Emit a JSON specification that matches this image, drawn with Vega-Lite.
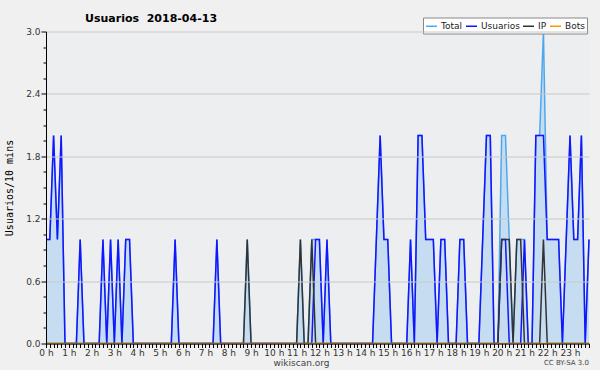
{
  "$schema": "https://vega.github.io/schema/vega-lite/v6.json",
  "autosize": {"type": "none"},
  "width": 543,
  "height": 312,
  "padding": {"left": 46, "top": 31.5, "right": 11, "bottom": 26.5},
  "background": "#f0f0f0",
  "config": {
    "view": {"fill": "#edeef0", "stroke": null},
    "font": "DejaVu Sans"
  },
  "title": {
    "text": "Usuarios\u00a0 2018-04-13",
    "anchor": "start",
    "frame": "group",
    "dx": 39,
    "dy": 16,
    "offset": 9,
    "fontSize": 11,
    "fontWeight": "bold",
    "color": "#000000",
    "font": "DejaVu Sans"
  },
  "data": {
    "values": [
      {"t":0,"Total":1,"Usuarios":1,"IP":0,"Bots":0},
      {"t":1,"Total":1,"Usuarios":1,"IP":0,"Bots":0},
      {"t":2,"Total":2,"Usuarios":2,"IP":0,"Bots":0},
      {"t":3,"Total":1,"Usuarios":1,"IP":0,"Bots":0},
      {"t":4,"Total":2,"Usuarios":2,"IP":0,"Bots":0},
      {"t":5,"Total":0,"Usuarios":0,"IP":0,"Bots":0},
      {"t":6,"Total":0,"Usuarios":0,"IP":0,"Bots":0},
      {"t":7,"Total":0,"Usuarios":0,"IP":0,"Bots":0},
      {"t":8,"Total":0,"Usuarios":0,"IP":0,"Bots":0},
      {"t":9,"Total":1,"Usuarios":1,"IP":0,"Bots":0},
      {"t":10,"Total":0,"Usuarios":0,"IP":0,"Bots":0},
      {"t":11,"Total":0,"Usuarios":0,"IP":0,"Bots":0},
      {"t":12,"Total":0,"Usuarios":0,"IP":0,"Bots":0},
      {"t":13,"Total":0,"Usuarios":0,"IP":0,"Bots":0},
      {"t":14,"Total":0,"Usuarios":0,"IP":0,"Bots":0},
      {"t":15,"Total":1,"Usuarios":1,"IP":0,"Bots":0},
      {"t":16,"Total":0,"Usuarios":0,"IP":0,"Bots":0},
      {"t":17,"Total":1,"Usuarios":1,"IP":0,"Bots":0},
      {"t":18,"Total":0,"Usuarios":0,"IP":0,"Bots":0},
      {"t":19,"Total":1,"Usuarios":1,"IP":0,"Bots":0},
      {"t":20,"Total":0,"Usuarios":0,"IP":0,"Bots":0},
      {"t":21,"Total":1,"Usuarios":1,"IP":0,"Bots":0},
      {"t":22,"Total":1,"Usuarios":1,"IP":0,"Bots":0},
      {"t":23,"Total":0,"Usuarios":0,"IP":0,"Bots":0},
      {"t":24,"Total":0,"Usuarios":0,"IP":0,"Bots":0},
      {"t":25,"Total":0,"Usuarios":0,"IP":0,"Bots":0},
      {"t":26,"Total":0,"Usuarios":0,"IP":0,"Bots":0},
      {"t":27,"Total":0,"Usuarios":0,"IP":0,"Bots":0},
      {"t":28,"Total":0,"Usuarios":0,"IP":0,"Bots":0},
      {"t":29,"Total":0,"Usuarios":0,"IP":0,"Bots":0},
      {"t":30,"Total":0,"Usuarios":0,"IP":0,"Bots":0},
      {"t":31,"Total":0,"Usuarios":0,"IP":0,"Bots":0},
      {"t":32,"Total":0,"Usuarios":0,"IP":0,"Bots":0},
      {"t":33,"Total":0,"Usuarios":0,"IP":0,"Bots":0},
      {"t":34,"Total":1,"Usuarios":1,"IP":0,"Bots":0},
      {"t":35,"Total":0,"Usuarios":0,"IP":0,"Bots":0},
      {"t":36,"Total":0,"Usuarios":0,"IP":0,"Bots":0},
      {"t":37,"Total":0,"Usuarios":0,"IP":0,"Bots":0},
      {"t":38,"Total":0,"Usuarios":0,"IP":0,"Bots":0},
      {"t":39,"Total":0,"Usuarios":0,"IP":0,"Bots":0},
      {"t":40,"Total":0,"Usuarios":0,"IP":0,"Bots":0},
      {"t":41,"Total":0,"Usuarios":0,"IP":0,"Bots":0},
      {"t":42,"Total":0,"Usuarios":0,"IP":0,"Bots":0},
      {"t":43,"Total":0,"Usuarios":0,"IP":0,"Bots":0},
      {"t":44,"Total":0,"Usuarios":0,"IP":0,"Bots":0},
      {"t":45,"Total":1,"Usuarios":1,"IP":0,"Bots":0},
      {"t":46,"Total":0,"Usuarios":0,"IP":0,"Bots":0},
      {"t":47,"Total":0,"Usuarios":0,"IP":0,"Bots":0},
      {"t":48,"Total":0,"Usuarios":0,"IP":0,"Bots":0},
      {"t":49,"Total":0,"Usuarios":0,"IP":0,"Bots":0},
      {"t":50,"Total":0,"Usuarios":0,"IP":0,"Bots":0},
      {"t":51,"Total":0,"Usuarios":0,"IP":0,"Bots":0},
      {"t":52,"Total":0,"Usuarios":0,"IP":0,"Bots":0},
      {"t":53,"Total":1,"Usuarios":0,"IP":1,"Bots":0},
      {"t":54,"Total":0,"Usuarios":0,"IP":0,"Bots":0},
      {"t":55,"Total":0,"Usuarios":0,"IP":0,"Bots":0},
      {"t":56,"Total":0,"Usuarios":0,"IP":0,"Bots":0},
      {"t":57,"Total":0,"Usuarios":0,"IP":0,"Bots":0},
      {"t":58,"Total":0,"Usuarios":0,"IP":0,"Bots":0},
      {"t":59,"Total":0,"Usuarios":0,"IP":0,"Bots":0},
      {"t":60,"Total":0,"Usuarios":0,"IP":0,"Bots":0},
      {"t":61,"Total":0,"Usuarios":0,"IP":0,"Bots":0},
      {"t":62,"Total":0,"Usuarios":0,"IP":0,"Bots":0},
      {"t":63,"Total":0,"Usuarios":0,"IP":0,"Bots":0},
      {"t":64,"Total":0,"Usuarios":0,"IP":0,"Bots":0},
      {"t":65,"Total":0,"Usuarios":0,"IP":0,"Bots":0},
      {"t":66,"Total":0,"Usuarios":0,"IP":0,"Bots":0},
      {"t":67,"Total":1,"Usuarios":0,"IP":1,"Bots":0},
      {"t":68,"Total":0,"Usuarios":0,"IP":0,"Bots":0},
      {"t":69,"Total":0,"Usuarios":0,"IP":0,"Bots":0},
      {"t":70,"Total":1,"Usuarios":0,"IP":1,"Bots":0},
      {"t":71,"Total":1,"Usuarios":1,"IP":0,"Bots":0},
      {"t":72,"Total":1,"Usuarios":1,"IP":0,"Bots":0},
      {"t":73,"Total":0,"Usuarios":0,"IP":0,"Bots":0},
      {"t":74,"Total":1,"Usuarios":1,"IP":0,"Bots":0},
      {"t":75,"Total":0,"Usuarios":0,"IP":0,"Bots":0},
      {"t":76,"Total":0,"Usuarios":0,"IP":0,"Bots":0},
      {"t":77,"Total":0,"Usuarios":0,"IP":0,"Bots":0},
      {"t":78,"Total":0,"Usuarios":0,"IP":0,"Bots":0},
      {"t":79,"Total":0,"Usuarios":0,"IP":0,"Bots":0},
      {"t":80,"Total":0,"Usuarios":0,"IP":0,"Bots":0},
      {"t":81,"Total":0,"Usuarios":0,"IP":0,"Bots":0},
      {"t":82,"Total":0,"Usuarios":0,"IP":0,"Bots":0},
      {"t":83,"Total":0,"Usuarios":0,"IP":0,"Bots":0},
      {"t":84,"Total":0,"Usuarios":0,"IP":0,"Bots":0},
      {"t":85,"Total":0,"Usuarios":0,"IP":0,"Bots":0},
      {"t":86,"Total":0,"Usuarios":0,"IP":0,"Bots":0},
      {"t":87,"Total":1,"Usuarios":1,"IP":0,"Bots":0},
      {"t":88,"Total":2,"Usuarios":2,"IP":0,"Bots":0},
      {"t":89,"Total":1,"Usuarios":1,"IP":0,"Bots":0},
      {"t":90,"Total":1,"Usuarios":1,"IP":0,"Bots":0},
      {"t":91,"Total":0,"Usuarios":0,"IP":0,"Bots":0},
      {"t":92,"Total":0,"Usuarios":0,"IP":0,"Bots":0},
      {"t":93,"Total":0,"Usuarios":0,"IP":0,"Bots":0},
      {"t":94,"Total":0,"Usuarios":0,"IP":0,"Bots":0},
      {"t":95,"Total":0,"Usuarios":0,"IP":0,"Bots":0},
      {"t":96,"Total":1,"Usuarios":1,"IP":0,"Bots":0},
      {"t":97,"Total":0,"Usuarios":0,"IP":0,"Bots":0},
      {"t":98,"Total":2,"Usuarios":2,"IP":0,"Bots":0},
      {"t":99,"Total":2,"Usuarios":2,"IP":0,"Bots":0},
      {"t":100,"Total":1,"Usuarios":1,"IP":0,"Bots":0},
      {"t":101,"Total":1,"Usuarios":1,"IP":0,"Bots":0},
      {"t":102,"Total":1,"Usuarios":1,"IP":0,"Bots":0},
      {"t":103,"Total":0,"Usuarios":0,"IP":0,"Bots":0},
      {"t":104,"Total":1,"Usuarios":1,"IP":0,"Bots":0},
      {"t":105,"Total":1,"Usuarios":1,"IP":0,"Bots":0},
      {"t":106,"Total":0,"Usuarios":0,"IP":0,"Bots":0},
      {"t":107,"Total":0,"Usuarios":0,"IP":0,"Bots":0},
      {"t":108,"Total":0,"Usuarios":0,"IP":0,"Bots":0},
      {"t":109,"Total":1,"Usuarios":1,"IP":0,"Bots":0},
      {"t":110,"Total":1,"Usuarios":1,"IP":0,"Bots":0},
      {"t":111,"Total":0,"Usuarios":0,"IP":0,"Bots":0},
      {"t":112,"Total":0,"Usuarios":0,"IP":0,"Bots":0},
      {"t":113,"Total":0,"Usuarios":0,"IP":0,"Bots":0},
      {"t":114,"Total":0,"Usuarios":0,"IP":0,"Bots":0},
      {"t":115,"Total":1,"Usuarios":1,"IP":0,"Bots":0},
      {"t":116,"Total":2,"Usuarios":2,"IP":0,"Bots":0},
      {"t":117,"Total":2,"Usuarios":2,"IP":0,"Bots":0},
      {"t":118,"Total":0,"Usuarios":0,"IP":0,"Bots":0},
      {"t":119,"Total":0,"Usuarios":0,"IP":0,"Bots":0},
      {"t":120,"Total":2,"Usuarios":1,"IP":1,"Bots":0},
      {"t":121,"Total":2,"Usuarios":1,"IP":1,"Bots":0},
      {"t":122,"Total":1,"Usuarios":0,"IP":1,"Bots":0},
      {"t":123,"Total":0,"Usuarios":0,"IP":0,"Bots":0},
      {"t":124,"Total":1,"Usuarios":0,"IP":1,"Bots":0},
      {"t":125,"Total":1,"Usuarios":0,"IP":1,"Bots":0},
      {"t":126,"Total":1,"Usuarios":1,"IP":0,"Bots":0},
      {"t":127,"Total":0,"Usuarios":0,"IP":0,"Bots":0},
      {"t":128,"Total":0,"Usuarios":0,"IP":0,"Bots":0},
      {"t":129,"Total":2,"Usuarios":2,"IP":0,"Bots":0},
      {"t":130,"Total":2,"Usuarios":2,"IP":0,"Bots":0},
      {"t":131,"Total":3,"Usuarios":2,"IP":1,"Bots":0},
      {"t":132,"Total":1,"Usuarios":1,"IP":0,"Bots":0},
      {"t":133,"Total":1,"Usuarios":1,"IP":0,"Bots":0},
      {"t":134,"Total":1,"Usuarios":1,"IP":0,"Bots":0},
      {"t":135,"Total":1,"Usuarios":1,"IP":0,"Bots":0},
      {"t":136,"Total":0,"Usuarios":0,"IP":0,"Bots":0},
      {"t":137,"Total":1,"Usuarios":1,"IP":0,"Bots":0},
      {"t":138,"Total":2,"Usuarios":2,"IP":0,"Bots":0},
      {"t":139,"Total":1,"Usuarios":1,"IP":0,"Bots":0},
      {"t":140,"Total":1,"Usuarios":1,"IP":0,"Bots":0},
      {"t":141,"Total":2,"Usuarios":2,"IP":0,"Bots":0},
      {"t":142,"Total":0,"Usuarios":0,"IP":0,"Bots":0},
      {"t":143,"Total":1,"Usuarios":1,"IP":0,"Bots":0}
    ]
  },
  "encoding": {
    "x": {
      "field": "t",
      "type": "quantitative",
      "scale": {"domain": [0, 143], "nice": false, "zero": false},
      "axis": {
        "title": "wikiscan.org",
        "titleFont": "DejaVu Sans",
        "titleFontSize": 9,
        "titleFontWeight": "normal",
        "titleColor": "#444444",
        "titleX": 255,
        "titlePadding": 1,
        "tickCount": 143,
        "tickSize": 4,
        "tickColor": "#000000",
        "domainColor": "#000000",
        "grid": false,
        "labelExpr": "datum.value % 6 == 0 ? (datum.value / 6) + ' h' : ''",
        "labelOverlap": false,
        "labelFlush": false,
        "labelBound": false,
        "labelFontSize": 9,
        "labelColor": "#333333",
        "labelPadding": 1,
        "zindex": 1
      }
    },
    "y": {
      "type": "quantitative",
      "scale": {"domain": [0, 3], "nice": false},
      "axis": {
        "title": "Usuarios/10 mins",
        "titleFont": "DejaVu Sans Mono",
        "titleFontSize": 10,
        "titleFontWeight": "normal",
        "titleColor": "#000000",
        "titlePadding": 11,
        "values": [0, 0.15, 0.3, 0.45, 0.6, 0.75, 0.9, 1.05, 1.2, 1.35, 1.5, 1.65, 1.8, 1.95, 2.1, 2.25, 2.4, 2.55, 2.7, 2.85, 3.0],
        "labelExpr": "abs(datum.value / 0.6 - round(datum.value / 0.6)) < 0.01 ? format(datum.value, '.1f') : ''",
        "tickSize": {"condition": {"test": "abs(datum.value / 0.6 - round(datum.value / 0.6)) < 0.01", "value": 5}, "value": 3},
        "gridOpacity": {"condition": {"test": "abs(datum.value / 0.6 - round(datum.value / 0.6)) < 0.01", "value": 1}, "value": 0},
        "gridColor": "#c8c8c8",
        "tickColor": "#000000",
        "domainColor": "#000000",
        "labelFontSize": 9,
        "labelColor": "#333333",
        "labelPadding": 1,
        "labelOverlap": false,
        "zindex": 1
      }
    }
  },
  "layer": [
    {
      "mark": {"type": "area", "color": "#c6ddf1", "opacity": 1},
      "encoding": {"y": {"field": "Total", "type": "quantitative"}}
    },
    {
      "transform": [{"fold": ["Total", "Usuarios", "IP", "Bots"], "as": ["serie", "valor"]}],
      "mark": {"type": "line", "strokeWidth": 1.5},
      "encoding": {
        "y": {"field": "valor", "type": "quantitative"},
        "color": {
          "field": "serie",
          "type": "nominal",
          "scale": {"domain": ["Total", "Usuarios", "IP", "Bots"], "range": ["#4fa8ee", "#1414ff", "#333333", "#ff9900"]},
          "legend": {
            "title": null,
            "orient": "none",
            "legendX": 377,
            "legendY": -14,
            "direction": "horizontal",
            "symbolType": "stroke",
            "symbolSize": 121,
            "symbolStrokeWidth": 1.5,
            "labelFontSize": 9,
            "labelColor": "#222222",
            "labelOffset": 3,
            "columnPadding": 0,
            "padding": 2,
            "fillColor": "#ffffff",
            "strokeColor": "#888888"
          }
        }
      }
    },
    {
      "transform": [{"filter": "datum.t == 143"}],
      "mark": {"type": "text", "text": "CC BY-SA 3.0", "align": "right", "baseline": "middle", "dy": 19, "fontSize": 7, "color": "#444444", "font": "DejaVu Sans"},
      "encoding": {"x": {"datum": 143}, "y": {"datum": 0}}
    }
  ]
}
